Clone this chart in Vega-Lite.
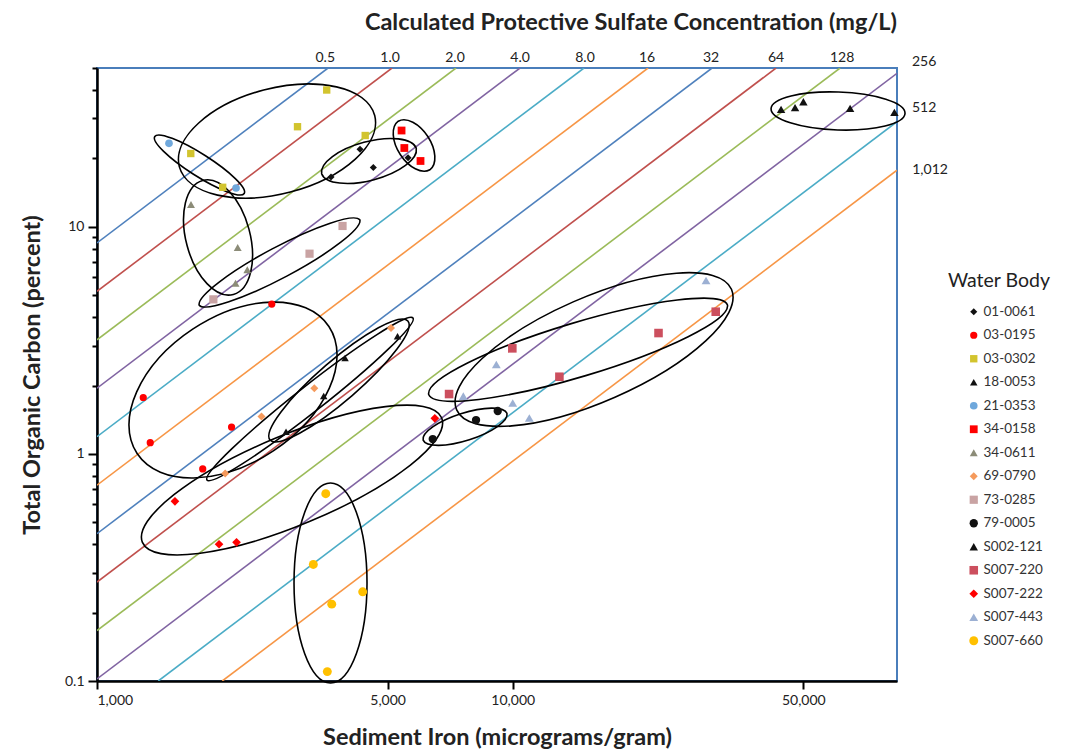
{
  "$schema": "https://vega.github.io/schema/vega-lite/v6.json",
  "width": 800,
  "height": 613,
  "autosize": {"type": "none"},
  "padding": {"left": 97, "top": 68, "right": 184, "bottom": 68},
  "background": "white",
  "title": {"text": "Calculated Protective Sulfate Concentration (mg/L)", "anchor": "end", "frame": "group", "fontSize": 23.5, "fontWeight": "bold", "font": "Lato", "color": "#222222", "offset": 16},
  "config": {
    "font": "Lato",
    "view": {"stroke": "#4A7EBB", "strokeWidth": 2},
    "axis": {"domainColor": "#000000", "domainWidth": 2.5, "tickColor": "#000000", "tickWidth": 2, "labelFontSize": 14, "labelColor": "#222222", "titleFontSize": 23.5, "titleFontWeight": "bold", "titleColor": "#222222", "grid": false, "labelFont": "Lato", "titleFont": "Lato"},
    "legend": {"orient": "none", "legendX": 851, "legendY": 203.5, "title": "Water Body", "titleFontSize": 19.5, "titleFontWeight": "normal", "titleFont": "Lato", "titleColor": "#222222", "titleAnchor": "middle", "labelFontSize": 13.5, "labelFont": "Lato", "labelColor": "#333333", "symbolSize": 40, "symbolOffset": 12, "rowPadding": 8.5, "titlePadding": 14, "labelOffset": 3, "symbolStrokeWidth": 0}
  },
  "datasets": {
    "lines": [
      {"conc": "0.5", "fe": 1000, "toc": 8.49}, {"conc": "0.5", "fe": 3595, "toc": 50},
      {"conc": "1.0", "fe": 1000, "toc": 5.195}, {"conc": "1.0", "fe": 5124, "toc": 50},
      {"conc": "2.0", "fe": 1000, "toc": 3.178}, {"conc": "2.0", "fe": 7304, "toc": 50},
      {"conc": "4.0", "fe": 1000, "toc": 1.946}, {"conc": "4.0", "fe": 10413, "toc": 50},
      {"conc": "8.0", "fe": 1000, "toc": 1.19}, {"conc": "8.0", "fe": 14840, "toc": 50},
      {"conc": "16", "fe": 1000, "toc": 0.7284}, {"conc": "16", "fe": 21160, "toc": 50},
      {"conc": "32", "fe": 1000, "toc": 0.4455}, {"conc": "32", "fe": 30160, "toc": 50},
      {"conc": "64", "fe": 1000, "toc": 0.2727}, {"conc": "64", "fe": 42990, "toc": 50},
      {"conc": "128", "fe": 1000, "toc": 0.1668}, {"conc": "128", "fe": 61290, "toc": 50},
      {"conc": "256", "fe": 1000, "toc": 0.1021}, {"conc": "256", "fe": 84000, "toc": 47.38},
      {"conc": "512", "fe": 1404, "toc": 0.1}, {"conc": "512", "fe": 84000, "toc": 29.0},
      {"conc": "1012", "fe": 2001, "toc": 0.1}, {"conc": "1012", "fe": 84000, "toc": 17.74}
    ],
    "labels": [
      {"label": "0.5", "fe": 3540, "toc": 55.34},
      {"label": "1.0", "fe": 5068, "toc": 55.34},
      {"label": "2.0", "fe": 7263, "toc": 55.34},
      {"label": "4.0", "fe": 10413, "toc": 55.34},
      {"label": "8.0", "fe": 14920, "toc": 55.34},
      {"label": "16", "fe": 21040, "toc": 55.34},
      {"label": "32", "fe": 29990, "toc": 55.34},
      {"label": "64", "fe": 42990, "toc": 55.34},
      {"label": "128", "fe": 61980, "toc": 55.34},
      {"label": "256", "fe": 97590, "toc": 53.14},
      {"label": "512", "fe": 97590, "toc": 33.34},
      {"label": "1,012", "fe": 100880, "toc": 17.77}
    ],
    "rings": [
      {"body": "21-0353", "fe": 1764, "toc": 18.7},
      {"body": "03-0302", "fe": 2710, "toc": 23.85},
      {"body": "01-0061", "fe": 4510, "toc": 19.48},
      {"body": "34-0158", "fe": 5789, "toc": 22.79},
      {"body": "34-0611", "fe": 1955, "toc": 8.97},
      {"body": "73-0285", "fe": 2748, "toc": 6.96},
      {"body": "03-0195", "fe": 2124, "toc": 1.91},
      {"body": "69-0790", "fe": 3253, "toc": 1.744},
      {"body": "18-0053", "fe": 3820, "toc": 2.104},
      {"body": "S007-222", "fe": 2945, "toc": 0.767},
      {"body": "S007-660", "fe": 3645, "toc": 0.27},
      {"body": "79-0005", "fe": 7679, "toc": 1.317},
      {"body": "S007-443", "fe": 15690, "toc": 2.88},
      {"body": "S007-220", "fe": 14360, "toc": 2.874},
      {"body": "S002-121", "fe": 60600, "toc": 32.33}
    ],
    "points": [
      {"body": "01-0061", "fe": 3655, "toc": 16.56},
      {"body": "01-0061", "fe": 4292, "toc": 21.93},
      {"body": "01-0061", "fe": 4620, "toc": 18.23},
      {"body": "01-0061", "fe": 5600, "toc": 20.14},
      {"body": "03-0195", "fe": 2633, "toc": 4.567},
      {"body": "03-0195", "fe": 1292, "toc": 1.771},
      {"body": "03-0195", "fe": 1343, "toc": 1.12},
      {"body": "03-0195", "fe": 2107, "toc": 1.313},
      {"body": "03-0195", "fe": 1796, "toc": 0.858},
      {"body": "03-0302", "fe": 1681, "toc": 21.01},
      {"body": "03-0302", "fe": 2006, "toc": 14.92},
      {"body": "03-0302", "fe": 3036, "toc": 27.57},
      {"body": "03-0302", "fe": 3569, "toc": 40.0},
      {"body": "03-0302", "fe": 4417, "toc": 25.22},
      {"body": "18-0053", "fe": 5283, "toc": 3.293},
      {"body": "18-0053", "fe": 3950, "toc": 2.642},
      {"body": "18-0053", "fe": 3510, "toc": 1.797},
      {"body": "18-0053", "fe": 2849, "toc": 1.252},
      {"body": "21-0353", "fe": 1490, "toc": 23.3},
      {"body": "21-0353", "fe": 2160, "toc": 14.81},
      {"body": "34-0158", "fe": 5402, "toc": 26.53},
      {"body": "34-0158", "fe": 5486, "toc": 22.22},
      {"body": "34-0158", "fe": 6000, "toc": 19.48},
      {"body": "34-0611", "fe": 1683, "toc": 12.53},
      {"body": "34-0611", "fe": 2180, "toc": 8.1},
      {"body": "34-0611", "fe": 2299, "toc": 6.47},
      {"body": "34-0611", "fe": 2154, "toc": 5.64},
      {"body": "69-0790", "fe": 5095, "toc": 3.582},
      {"body": "69-0790", "fe": 3332, "toc": 1.944},
      {"body": "69-0790", "fe": 2487, "toc": 1.46},
      {"body": "69-0790", "fe": 2034, "toc": 0.819},
      {"body": "73-0285", "fe": 3896, "toc": 10.08},
      {"body": "73-0285", "fe": 3245, "toc": 7.61},
      {"body": "73-0285", "fe": 1905, "toc": 4.79},
      {"body": "79-0005", "fe": 6421, "toc": 1.162},
      {"body": "79-0005", "fe": 8161, "toc": 1.409},
      {"body": "79-0005", "fe": 9203, "toc": 1.544},
      {"body": "S002-121", "fe": 44200, "toc": 32.89},
      {"body": "S002-121", "fe": 47760, "toc": 33.43},
      {"body": "S002-121", "fe": 50020, "toc": 35.52},
      {"body": "S002-121", "fe": 64780, "toc": 33.22},
      {"body": "S002-121", "fe": 82800, "toc": 31.9},
      {"body": "S007-220", "fe": 30780, "toc": 4.226},
      {"body": "S007-220", "fe": 22420, "toc": 3.404},
      {"body": "S007-220", "fe": 12950, "toc": 2.186},
      {"body": "S007-220", "fe": 9977, "toc": 2.915},
      {"body": "S007-220", "fe": 7028, "toc": 1.834},
      {"body": "S007-222", "fe": 1540, "toc": 0.618},
      {"body": "S007-222", "fe": 1966, "toc": 0.4},
      {"body": "S007-222", "fe": 2166, "toc": 0.408},
      {"body": "S007-222", "fe": 6495, "toc": 1.434},
      {"body": "S007-443", "fe": 29170, "toc": 5.8},
      {"body": "S007-443", "fe": 9131, "toc": 2.474},
      {"body": "S007-443", "fe": 7605, "toc": 1.797},
      {"body": "S007-443", "fe": 10000, "toc": 1.675},
      {"body": "S007-443", "fe": 10962, "toc": 1.438},
      {"body": "S007-660", "fe": 3550, "toc": 0.668},
      {"body": "S007-660", "fe": 3314, "toc": 0.326},
      {"body": "S007-660", "fe": 3670, "toc": 0.218},
      {"body": "S007-660", "fe": 4356, "toc": 0.247},
      {"body": "S007-660", "fe": 3581, "toc": 0.11}
    ]
  },
  "encoding": {
    "x": {"field": "fe", "type": "quantitative", "scale": {"type": "log", "domain": [1000, 84000], "nice": false},
      "axis": {"values": [1000, 5000, 10000, 50000], "format": ",", "tickSize": 8, "labelPadding": 4, "title": "Sediment Iron (micrograms/gram)", "titlePadding": 18}},
    "y": {"field": "toc", "type": "quantitative", "scale": {"type": "log", "domain": [0.1, 50], "nice": false},
      "axis": {"values": [0.1, 0.2, 0.3, 0.4, 0.5, 0.6, 0.7, 0.8, 0.9, 1, 2, 3, 4, 5, 6, 7, 8, 9, 10, 20, 30, 40, 50],
        "labelExpr": "datum.value === 0.1 ? '0.1' : datum.value === 1 ? '1' : datum.value === 10 ? '10' : ''",
        "tickSize": {"condition": {"test": "datum.value === 0.1 || datum.value === 1 || datum.value === 10", "value": 9}, "value": 5},
        "labelPadding": 4, "title": "Total Organic Carbon (percent)", "titlePadding": 20}}
  },
  "layer": [
    {
      "data": {"name": "lines"},
      "mark": {"type": "line", "strokeWidth": 1.6, "clip": true},
      "encoding": {
        "color": {"field": "conc", "type": "nominal",
          "scale": {"domain": ["0.5", "1.0", "2.0", "4.0", "8.0", "16", "32", "64", "128", "256", "512", "1012"],
            "range": ["#4F81BD", "#C0504D", "#9BBB59", "#8064A2", "#4BACC6", "#F79646", "#4F81BD", "#C0504D", "#9BBB59", "#8064A2", "#4BACC6", "#F79646"]},
          "legend": null}
      }
    },
    {
      "data": {"name": "rings"},
      "mark": {"type": "point", "filled": false, "color": "#000000", "strokeWidth": 1.6, "size": 4, "opacity": 1},
      "encoding": {
        "shape": {"field": "body", "type": "nominal",
          "scale": {"domain": ["21-0353", "03-0302", "01-0061", "34-0158", "34-0611", "73-0285", "03-0195", "69-0790", "18-0053", "S007-222", "S007-660", "79-0005", "S007-443", "S007-220", "S002-121"],
            "range": [
              "M-44.7,-28.5A53,11,32.5,0,1,44.7,28.5A53,11,32.5,0,1,-44.7,-28.5Z",
              "M-97.7,25.6A101,53,-14.7,0,1,97.7,-25.6A101,53,-14.7,0,1,-97.7,25.6Z",
              "M-47.3,12.7A49,20,-15,0,1,47.3,-12.7A49,20,-15,0,1,-47.3,12.7Z",
              "M-15.8,-24.3A29,17,57,0,1,15.8,24.3A29,17,57,0,1,-15.8,-24.3Z",
              "M-15.3,-57A59,32,75,0,1,15.3,57A59,32,75,0,1,-15.3,-57Z",
              "M-80.3,42.7A91,16,-28,0,1,80.3,-42.7A91,16,-28,0,1,-80.3,42.7Z",
              "M-95.9,63.5A115,73,-33.5,0,1,95.9,-63.5A115,73,-33.5,0,1,-95.9,63.5Z",
              "M-103,81A131,13,-38.2,0,1,103,-81A131,13,-38.2,0,1,-103,81Z",
              "M-68.9,59.5A91,20,-40.8,0,1,68.9,-59.5A91,20,-40.8,0,1,-68.9,59.5Z",
              "M-149.6,62.3A162,45,-22.6,0,1,149.6,-62.3A162,45,-22.6,0,1,-149.6,62.3Z",
              "M0,-100A100,36.5,90,0,1,0,100A100,36.5,90,0,1,0,-100Z",
              "M-41.9,13.4A44,14,-17.7,0,1,41.9,-13.4A44,14,-17.7,0,1,-41.9,13.4Z",
              "M-137.4,60.3A150,52,-23.7,0,1,137.4,-60.3A150,52,-23.7,0,1,-137.4,60.3Z",
              "M-149.4,44.8A156,27.5,-16.7,0,1,149.4,-44.8A156,27.5,-16.7,0,1,-149.4,44.8Z",
              "M-67,-2.3A67,19,2,0,1,67,2.3A67,19,2,0,1,-67,-2.3Z"
            ]},
          "legend": null}
      }
    },
    {
      "data": {"name": "points"},
      "mark": {"type": "point", "filled": true, "opacity": 1},
      "encoding": {
        "color": {"field": "body", "type": "nominal",
          "scale": {"domain": ["01-0061", "03-0195", "03-0302", "18-0053", "21-0353", "34-0158", "34-0611", "69-0790", "73-0285", "79-0005", "S002-121", "S007-220", "S007-222", "S007-443", "S007-660"],
            "range": ["#111111", "#FF0000", "#D2C42E", "#111111", "#6FA8DC", "#FF0000", "#8C8C78", "#F59A5C", "#C9A3A3", "#111111", "#111111", "#CC4F5E", "#FF0000", "#9CB0D3", "#FFC000"]},
          "legend": {"title": "Water Body"}},
        "shape": {"field": "body", "type": "nominal",
          "scale": {"domain": ["01-0061", "03-0195", "03-0302", "18-0053", "21-0353", "34-0158", "34-0611", "69-0790", "73-0285", "79-0005", "S002-121", "S007-220", "S007-222", "S007-443", "S007-660"],
            "range": ["diamond", "circle", "square", "triangle-up", "circle", "square", "triangle-up", "diamond", "square", "circle", "triangle-up", "square", "diamond", "triangle-up", "circle"]},
          "legend": {"title": "Water Body"}},
        "size": {"field": "body", "type": "ordinal",
          "scale": {"domain": ["01-0061", "03-0195", "03-0302", "18-0053", "21-0353", "34-0158", "34-0611", "69-0790", "73-0285", "79-0005", "S002-121", "S007-220", "S007-222", "S007-443", "S007-660"],
            "range": [50, 80, 60, 35, 80, 60, 50, 60, 55, 45, 40, 60, 35, 40, 70]},
          "legend": null}
      }
    },
    {
      "data": {"name": "labels"},
      "mark": {"type": "text", "fontSize": 14, "font": "Lato", "color": "#222222", "align": "center", "baseline": "middle", "clip": false},
      "encoding": {"text": {"field": "label", "type": "nominal"}}
    }
  ],
  "resolve": {"scale": {"color": "independent", "shape": "independent", "size": "independent"}}
}
